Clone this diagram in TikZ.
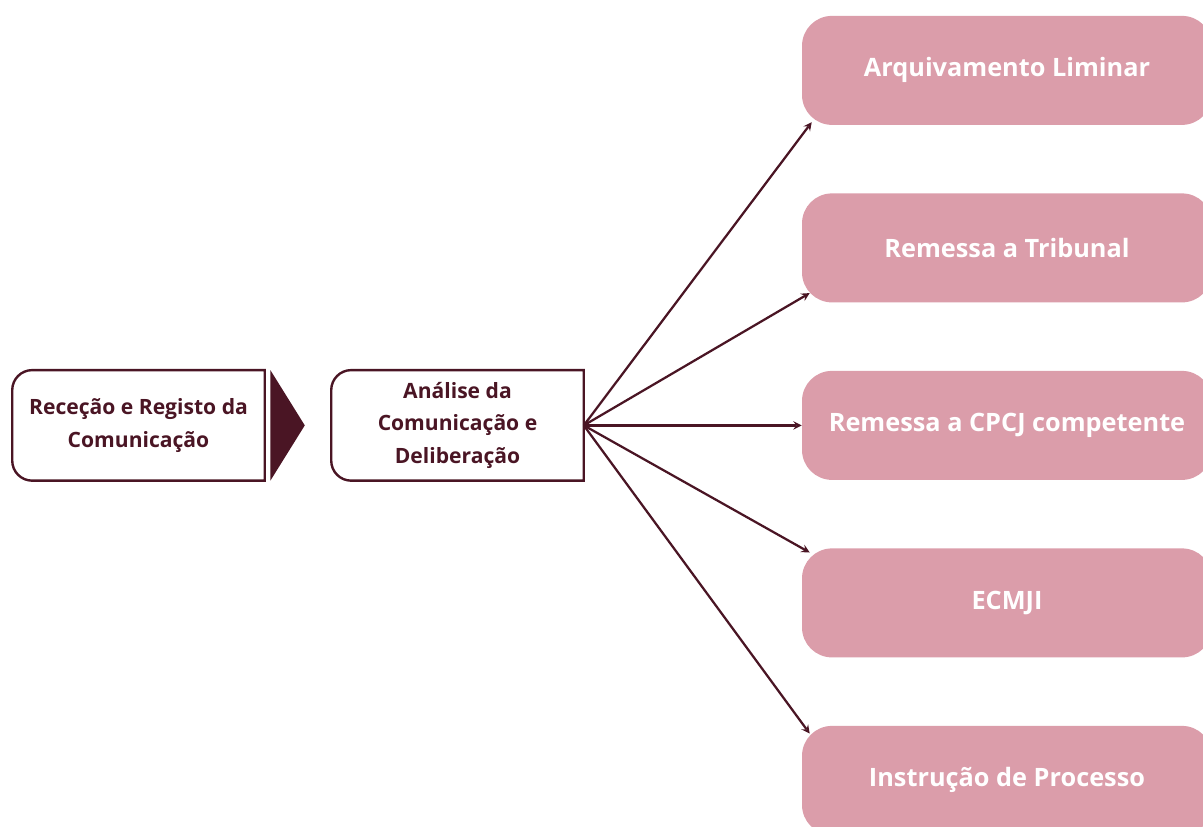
\documentclass[tikz,border=0pt]{standalone}
\usepackage{fontspec}
\setmainfont{Open Sans}
\usetikzlibrary{shapes.geometric, arrows}
\definecolor{vinho}{RGB}{74,21,36}
\definecolor{rosa}{RGB}{219,157,170}
\tikzstyle{entrada} = [rectangle, minimum width=6.3cm, minimum height=2.75cm, inner sep=0pt, text centered, align=center, text=vinho, font=\bfseries\fontsize{15}{23}\selectfont]
\tikzstyle{decisao} = [rectangle, rounded corners=0.75cm, minimum width=10.25cm, minimum height=2.725cm, text centered, fill=rosa, text=white, font=\bfseries\fontsize{18}{22}\selectfont]
\tikzstyle{moldura} = [line width=1.7pt, draw=vinho]
\tikzstyle{arrow} = [line width=1.6pt, draw=vinho, ->, >=stealth]

\begin{document}
\begin{tikzpicture}[node distance=4.4375cm]
\useasboundingbox (0,0) rectangle (30.075,20.675);

% Nós do diagrama
\node (ana) [entrada] at (11.4375,10.04) {Análise da\\Comunicação e\\Deliberação};
\node (rec) [entrada, left of=ana, xshift=-3.5375cm] {Receção e Registo da\\Comunicação};
\node (cpcj) [decisao, right of=ana, xshift=9.3cm] {Remessa a CPCJ competente};
\node (trib) [decisao, above of=cpcj] {Remessa a Tribunal};
\node (arq) [decisao, above of=trib] {Arquivamento Liminar};
\node (ecmji) [decisao, below of=cpcj] {ECMJI};
\node (inst) [decisao, below of=ecmji] {Instrução de Processo}; % cortada em baixo

% Molduras (cantos arredondados só do lado esquerdo)
\draw [moldura] (rec.north east) -- ([xshift=0.5cm]rec.north west) arc[start angle=90, end angle=180, radius=0.5cm] -- ([yshift=0.5cm]rec.south west) arc[start angle=180, end angle=270, radius=0.5cm] -- (rec.south east) -- cycle;
\draw [moldura] (ana.north east) -- ([xshift=0.5cm]ana.north west) arc[start angle=90, end angle=180, radius=0.5cm] -- ([yshift=0.5cm]ana.south west) arc[start angle=180, end angle=270, radius=0.5cm] -- (ana.south east) -- cycle;

% Triângulo entre as duas caixas
\fill [vinho] ([xshift=0.14cm]rec.north east) -- ([xshift=1cm]rec.east) -- ([xshift=0.14cm]rec.south east) -- cycle;

% Setas
\draw [arrow] (ana.east) -- ([shift={(0.25,0.075)}]arq.south west);
\draw [arrow] (ana.east) -- ([shift={(0.2,0.24)}]trib.south west);
\draw [arrow] (ana.east) -- (cpcj.west);
\draw [arrow] (ana.east) -- ([shift={(0.2,-0.11)}]ecmji.north west);
\draw [arrow] (ana.east) -- ([shift={(0.2,-0.2)}]inst.north west);

\end{tikzpicture}
\end{document}
